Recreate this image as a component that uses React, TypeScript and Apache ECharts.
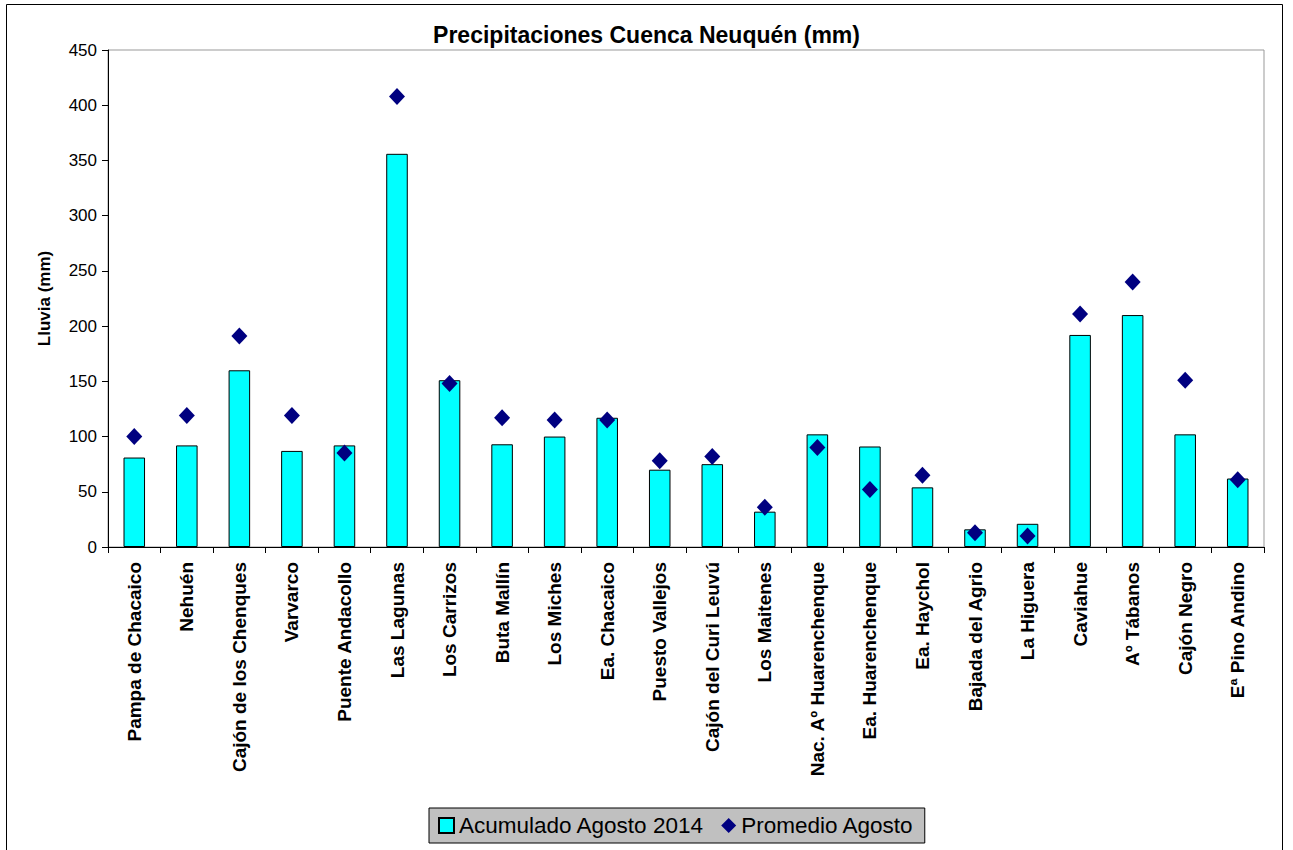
import React, { useEffect, useRef } from "react";
import * as echarts from "echarts";

const categories = [
  "Pampa de Chacaico",
  "Nehuén",
  "Cajón de los Chenques",
  "Varvarco",
  "Puente Andacollo",
  "Las Lagunas",
  "Los Carrizos",
  "Buta Mallín",
  "Los Miches",
  "Ea. Chacaico",
  "Puesto Vallejos",
  "Cajón del Curi Leuvú",
  "Los Maitenes",
  "Nac. Aº Huarenchenque",
  "Ea. Huarenchenque",
  "Ea. Haychol",
  "Bajada del Agrio",
  "La Higuera",
  "Caviahue",
  "Aº Tábanos",
  "Cajón Negro",
  "Eª Pino Andino",
];

const acumuladoAgosto2014 = [81, 92, 160, 87, 92, 356, 151, 93, 100, 117, 70, 75, 32, 102, 91, 54, 16, 21, 192, 210, 102, 62];
const promedioAgosto = [100, 119, 191, 119, 85, 408, 148, 117, 115, 115, 78, 82, 36, 90, 52, 65, 13, 10, 211, 240, 151, 61];

const yTicks = { min: 0, max: 450, interval: 50 };

const FONT = "'Liberation Sans', Arial, sans-serif";

export default function App() {
  const ref = useRef<HTMLDivElement>(null);
  useEffect(() => {
    if (!ref.current) return;
    const chart = echarts.init(ref.current, undefined, { renderer: "svg" });
    chart.setOption({
      animation: false,
      backgroundColor: "#ffffff",
      textStyle: { fontFamily: FONT, color: "#000" },
      title: {
        text: "Precipitaciones Cuenca Neuquén (mm)",
        left: "center",
        top: 18,
        textStyle: { fontFamily: FONT, fontSize: 23, fontWeight: "bold", color: "#000" },
      },
      graphic: [
        {
          type: "rect",
          shape: { x: 6.5, y: 4.5, width: 1276, height: 900 },
          style: { fill: "none", stroke: "#000", lineWidth: 1 },
          silent: true,
          z: 100,
        },
      ],
      grid: {
        left: 108,
        right: 29,
        top: 50,
        bottom: 303,
        show: true,
        borderColor: "#999",
        borderWidth: 1,
        containLabel: false,
      },
      legend: {
        left: 429,
        top: 808,
        backgroundColor: "#c0c0c0",
        borderColor: "#000",
        borderWidth: 1,
        borderRadius: 0,
        padding: [6, 11, 6, 9],
        itemGap: 17,
        itemWidth: 15,
        itemHeight: 15,
        textStyle: { fontFamily: FONT, fontSize: 22.5, color: "#000" },
        data: [
          { name: "Acumulado Agosto 2014", icon: "rect" },
          { name: "Promedio Agosto", icon: "diamond" },
        ],
      },
      xAxis: {
        type: "category",
        data: categories,
        boundaryGap: true,
        axisLine: { lineStyle: { color: "#000", width: 1 } },
        axisTick: { show: true, alignWithLabel: false, length: 6, lineStyle: { color: "#000" } },
        axisLabel: {
          rotate: 90,
          interval: 0,
          margin: 15,
          fontFamily: FONT,
          fontSize: 19,
          fontWeight: "bold",
          color: "#000",
        },
      },
      yAxis: {
        type: "value",
        min: yTicks.min,
        max: yTicks.max,
        interval: yTicks.interval,
        name: "Lluvia (mm)",
        nameLocation: "middle",
        nameRotate: 90,
        nameGap: 55,
        nameTextStyle: { fontFamily: FONT, fontSize: 17, fontWeight: "bold", color: "#000" },
        axisLine: { show: true, lineStyle: { color: "#000", width: 1 } },
        axisTick: { show: true, length: 6, lineStyle: { color: "#000" } },
        splitLine: { show: false },
        axisLabel: { fontFamily: FONT, fontSize: 17, color: "#000", margin: 11 },
      },
      series: [
        {
          name: "Acumulado Agosto 2014",
          type: "bar",
          data: acumuladoAgosto2014,
          barWidth: "41%",
          itemStyle: { color: "#00ffff", borderColor: "#000", borderWidth: 1 },
        },
        {
          name: "Promedio Agosto",
          type: "scatter",
          data: promedioAgosto,
          symbol: "diamond",
          symbolSize: [16, 17],
          itemStyle: { color: "#000080", opacity: 1 },
          z: 5,
        },
      ],
    });
    return () => chart.dispose();
  }, []);
  return (
    <div
      ref={ref}
      style={{ position: "absolute", left: 0, top: 0, width: 1293, height: 850 }}
    />
  );
}
